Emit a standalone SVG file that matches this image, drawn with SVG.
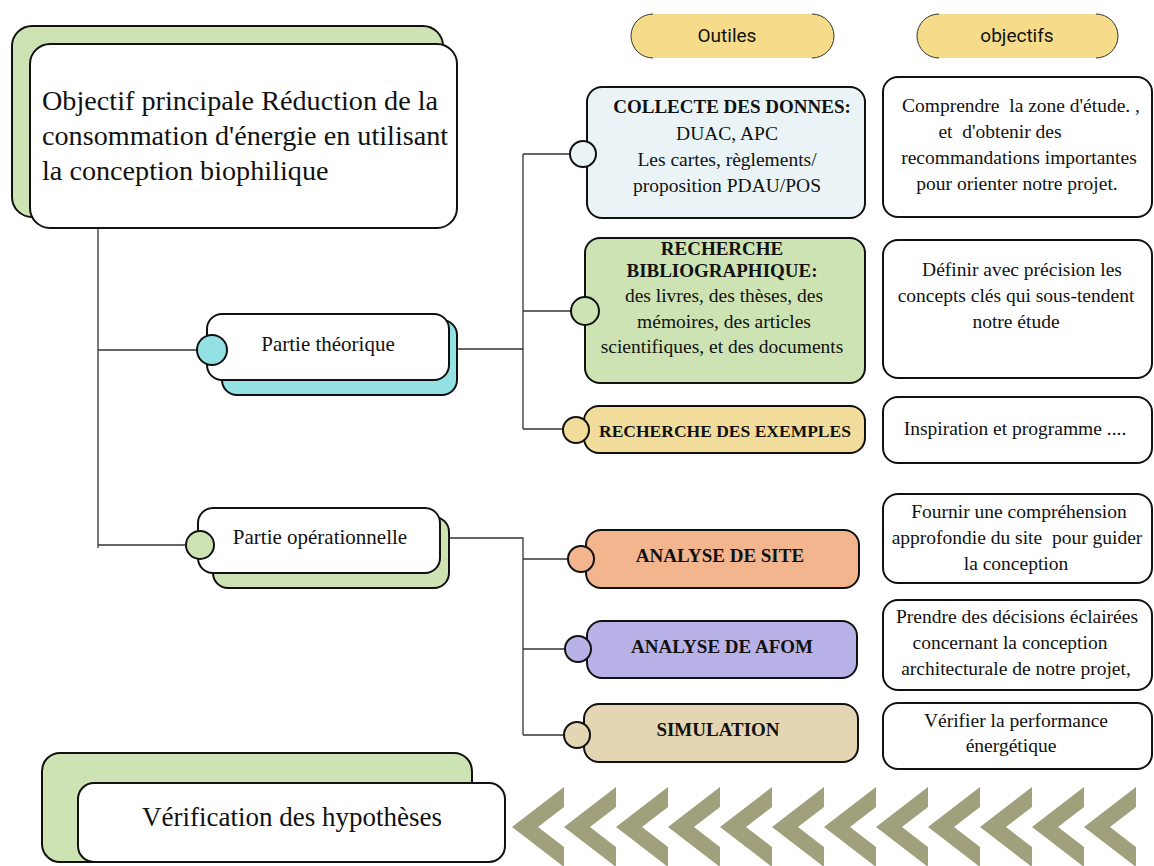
<svg xmlns="http://www.w3.org/2000/svg" width="1154" height="866" viewBox="0 0 1154 866">
  <style>
    .box { stroke: #111; stroke-width: 2; }
    .wire { fill: none; stroke: #333; stroke-width: 1.3; }
    .t { font-family: "Liberation Serif", "Times New Roman", serif; fill: #111; text-anchor: middle; white-space: pre; }
    .b { font-weight: bold; }
    .pill { fill: #F6DC8A; }
    .pillEdge { fill: none; stroke: #333; stroke-width: 1; }
    .ph { font-family: Roboto, "Liberation Sans", sans-serif; font-size: 19px; fill: #111; text-anchor: middle; }
    .chev { fill: #A0A07C; }
  </style>
  <defs>
    <!-- one chevron pointing left, tip at origin -->
    <polygon id="chevron" points="0,0 52,-40 52,-20 26,0 52,20 52,40"/>
  </defs>

  <rect width="1154" height="866" fill="#fff"/>

  <!-- column headers -->
  <g id="hdr-outils">
    <rect class="pill" x="631" y="14" width="203" height="44" rx="22"/>
    <path class="pillEdge" d="M653,14 A22,22 0 0 0 653,58 M812,14 A22,22 0 0 1 812,58"/>
    <text class="ph" x="727" y="42">Outiles</text>
  </g>
  <g id="hdr-objectifs">
    <rect class="pill" x="917" y="14" width="201" height="44" rx="22"/>
    <path class="pillEdge" d="M939,14 A22,22 0 0 0 939,58 M1096,14 A22,22 0 0 1 1096,58"/>
    <text class="ph" x="1017" y="42">objectifs</text>
  </g>

  <!-- connectors -->
  <g id="connectors">
    <path class="wire" d="M98,228 V548 M98,350 H198 M98,545 H186"/>
    <path class="wire" d="M457,349 H523 M523,154 V429 M523,154 H570 M523,311 H571 M523,429 H563"/>
    <path class="wire" d="M449,538 H523 V735 M523,559 H568 M523,649 H565 M523,735 H564"/>
  </g>

  <!-- main objective -->
  <g id="objectif">
    <rect class="box" x="12" y="26" width="431" height="191" rx="20" fill="#CDE3B4"/>
    <rect class="box" x="30" y="44" width="427" height="184" rx="20" fill="#fff"/>
    <text class="t" style="text-anchor:start" font-size="28.2" x="42" y="110">Objectif principale Réduction de la</text>
    <text class="t" style="text-anchor:start" font-size="28.2" x="42" y="145">consommation d'énergie en utilisant</text>
    <text class="t" style="text-anchor:start" font-size="28.2" x="42" y="180">la conception biophilique</text>
  </g>

  <!-- branches -->
  <g id="partie-theorique">
    <rect class="box" x="222" y="320" width="235" height="75" rx="15" fill="#94E1E3"/>
    <rect class="box" x="207" y="314" width="242" height="66" rx="15" fill="#fff"/>
    <circle class="box" cx="212" cy="350" r="15" fill="#94E1E3"/>
    <text class="t" font-size="21" x="328" y="351">Partie théorique</text>
  </g>
  <g id="partie-operationnelle">
    <rect class="box" x="213" y="517" width="236" height="71" rx="15" fill="#CDE3B4"/>
    <rect class="box" x="198" y="508" width="242" height="65" rx="15" fill="#fff"/>
    <circle class="box" cx="200" cy="545" r="14" fill="#CDE3B4"/>
    <text class="t" font-size="21" x="320" y="544">Partie opérationnelle</text>
  </g>

  <!-- tools -->
  <g id="collecte">
    <rect class="box" x="587" y="87" width="278" height="131" rx="15" fill="#EAF4F6"/>
    <circle class="box" cx="583" cy="154" r="13" fill="#EAF4F6"/>
    <text class="t b" font-size="19" x="732" y="113">COLLECTE DES DONNES:</text>
    <text class="t" font-size="19.5" x="727" y="140">DUAC, APC</text>
    <text class="t" font-size="19.5" x="727" y="166">Les cartes, règlements/</text>
    <text class="t" font-size="19.5" x="727" y="192">proposition PDAU/POS</text>
  </g>
  <g id="bibliographie">
    <rect class="box" x="585" y="238" width="280" height="145" rx="15" fill="#CDE3B4"/>
    <circle class="box" cx="585" cy="311" r="14" fill="#CDE3B4"/>
    <text class="t b" font-size="19" x="722" y="255">RECHERCHE</text>
    <text class="t b" font-size="19" x="722" y="277">BIBLIOGRAPHIQUE:</text>
    <text class="t" font-size="19.5" x="724" y="302">des livres, des thèses, des</text>
    <text class="t" font-size="19.5" x="724" y="328">mémoires, des articles</text>
    <text class="t" font-size="19.5" x="722" y="353">scientifiques, et des documents</text>
  </g>
  <g id="exemples">
    <rect class="box" x="584" y="406" width="281" height="47" rx="15" fill="#F2DC9C"/>
    <circle class="box" cx="576" cy="430" r="13" fill="#F2DC9C"/>
    <text class="t b" font-size="17.5" x="725" y="437">RECHERCHE DES EXEMPLES</text>
  </g>
  <g id="analyse-site">
    <rect class="box" x="586" y="530" width="273" height="58" rx="15" fill="#F2B58E"/>
    <circle class="box" cx="581" cy="559" r="13" fill="#F2B58E"/>
    <text class="t b" font-size="19" x="720" y="562">ANALYSE DE SITE</text>
  </g>
  <g id="analyse-afom">
    <rect class="box" x="587" y="621" width="270" height="57" rx="15" fill="#B9B2E8"/>
    <circle class="box" cx="578" cy="649" r="13" fill="#B9B2E8"/>
    <text class="t b" font-size="19" x="722" y="653">ANALYSE DE AFOM</text>
  </g>
  <g id="simulation">
    <rect class="box" x="584" y="704" width="274" height="58" rx="15" fill="#E4D6B2"/>
    <circle class="box" cx="577" cy="735" r="13" fill="#E4D6B2"/>
    <text class="t b" font-size="19" x="718" y="736">SIMULATION</text>
  </g>

  <!-- objectives -->
  <g id="obj-collecte">
    <rect class="box" x="883" y="77" width="269" height="140" rx="15" fill="#fff"/>
    <text class="t" font-size="19.5" x="1021" y="112">Comprendre  la zone d'étude. ,</text>
    <text class="t" font-size="19.5" x="1000" y="138">et  d'obtenir des</text>
    <text class="t" font-size="19.5" x="1019" y="164">recommandations importantes</text>
    <text class="t" font-size="19.5" x="1017" y="190">pour orienter notre projet.</text>
  </g>
  <g id="obj-biblio">
    <rect class="box" x="883" y="240" width="269" height="138" rx="15" fill="#fff"/>
    <text class="t" font-size="19.5" x="1022" y="276">Définir avec précision les</text>
    <text class="t" font-size="19.5" x="1016" y="302">concepts clés qui sous-tendent</text>
    <text class="t" font-size="19.5" x="1016" y="328">notre étude</text>
  </g>
  <g id="obj-exemples">
    <rect class="box" x="883" y="397" width="269" height="66" rx="15" fill="#fff"/>
    <text class="t" font-size="19.5" x="1015" y="435">Inspiration et programme ....</text>
  </g>
  <g id="obj-site">
    <rect class="box" x="883" y="494" width="269" height="89" rx="15" fill="#fff"/>
    <text class="t" font-size="19.5" x="1019" y="518">Fournir une compréhension</text>
    <text class="t" font-size="19.5" x="1017" y="544">approfondie du site  pour guider</text>
    <text class="t" font-size="19.5" x="1016" y="570">la conception</text>
  </g>
  <g id="obj-afom">
    <rect class="box" x="883" y="600" width="269" height="90" rx="15" fill="#fff"/>
    <text class="t" font-size="19.5" x="1017" y="623">Prendre des décisions éclairées</text>
    <text class="t" font-size="19.5" x="1010" y="649">concernant la conception</text>
    <text class="t" font-size="19.5" x="1016" y="675">architecturale de notre projet,</text>
  </g>
  <g id="obj-simulation">
    <rect class="box" x="883" y="703" width="269" height="66" rx="15" fill="#fff"/>
    <text class="t" font-size="19.5" x="1016" y="727">Vérifier la performance</text>
    <text class="t" font-size="19.5" x="1011" y="752">énergétique</text>
  </g>

  <!-- final step -->
  <g id="verification">
    <rect class="box" x="42" y="753" width="430" height="109" rx="18" fill="#CDE3B4"/>
    <rect class="box" x="78" y="783" width="427" height="79" rx="16" fill="#fff"/>
    <text class="t" font-size="27" x="292" y="826">Vérification des hypothèses</text>
  </g>

  <!-- return arrows -->
  <g id="chevrons" class="chev">
    <use href="#chevron" x="512" y="827"/>
    <use href="#chevron" x="564" y="827"/>
    <use href="#chevron" x="616" y="827"/>
    <use href="#chevron" x="668" y="827"/>
    <use href="#chevron" x="720" y="827"/>
    <use href="#chevron" x="772" y="827"/>
    <use href="#chevron" x="824" y="827"/>
    <use href="#chevron" x="876" y="827"/>
    <use href="#chevron" x="928" y="827"/>
    <use href="#chevron" x="980" y="827"/>
    <use href="#chevron" x="1032" y="827"/>
    <use href="#chevron" x="1084" y="827"/>
  </g>
</svg>
